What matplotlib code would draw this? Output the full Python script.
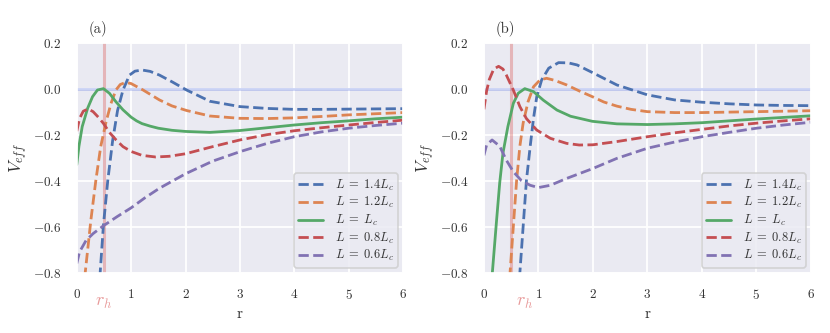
import matplotlib
matplotlib.use("Agg")
import matplotlib.pyplot as plt
import matplotlib.transforms as mtransforms
import seaborn as sns

# ---------------- data ----------------
labels = [r"$L\;=\;1.4L_c$", r"$L\;=\;1.2L_c$", r"$L\;=\;L_c$", r"$L\;=\;0.8L_c$", r"$L\;=\;0.6L_c$"]
colors = ["#4C72B0", "#DD8452", "#55A868", "#C44E52", "#8172B3"]
styles = ["--", "--", "-", "--", "--"]
r_h = 0.5

# panel (a)
ra_14 = [0.40, 0.43, 0.49, 0.57, 0.66, 0.75, 0.85, 0.97, 1.07, 1.2, 1.35, 1.52, 1.75, 2.02, 2.45, 3.0, 3.5, 4.0, 4.5, 5.0, 5.5, 6.0]
Va_14 = [-0.95, -0.80, -0.594, -0.40, -0.225, -0.095, -0.006, 0.059, 0.076, 0.081, 0.075, 0.059, 0.03, -0.006, -0.055, -0.078, -0.086, -0.09, -0.09, -0.089, -0.088, -0.087]
ra_12 = [0.13, 0.155, 0.26, 0.35, 0.44, 0.54, 0.63, 0.72, 0.8, 0.9, 1.0, 1.22, 1.52, 1.75, 2.02, 2.45, 3.0, 3.5, 4.0, 4.5, 5.0, 5.5, 6.0]
Va_12 = [-0.95, -0.80, -0.57, -0.40, -0.252, -0.143, -0.064, -0.006, 0.018, 0.027, 0.022, -0.006, -0.049, -0.075, -0.095, -0.119, -0.129, -0.13, -0.127, -0.121, -0.114, -0.109, -0.104]
ra_10 = [0.0, 0.04, 0.1, 0.2, 0.29, 0.38, 0.49, 0.6, 0.72, 0.85, 1.0, 1.1, 1.2, 1.35, 1.5, 1.75, 2.0, 2.45, 3.0, 3.5, 4.0, 4.5, 5.0, 5.5, 6.0]
Va_10 = [-0.33, -0.25, -0.165, -0.085, -0.035, -0.006, 0.0, -0.02, -0.057, -0.092, -0.124, -0.14, -0.152, -0.163, -0.172, -0.181, -0.186, -0.19, -0.182, -0.17, -0.158, -0.148, -0.14, -0.131, -0.124]
ra_08 = [0.0, 0.05, 0.12, 0.21, 0.3, 0.4, 0.49, 0.6, 0.72, 0.85, 1.0, 1.2, 1.45, 1.7, 2.0, 2.5, 3.0, 3.5, 4.0, 4.5, 5.0, 5.5, 6.0]
Va_08 = [-0.185, -0.13, -0.098, -0.088, -0.1, -0.125, -0.151, -0.19, -0.222, -0.252, -0.273, -0.29, -0.297, -0.294, -0.283, -0.252, -0.223, -0.2, -0.183, -0.17, -0.158, -0.147, -0.137]
ra_06 = [0.0, 0.05, 0.17, 0.3, 0.49, 0.75, 1.0, 1.25, 1.52, 2.0, 2.5, 3.0, 3.5, 4.0, 4.5, 5.0, 5.5, 6.0]
Va_06 = [-0.76, -0.71, -0.66, -0.63, -0.596, -0.555, -0.518, -0.475, -0.433, -0.37, -0.315, -0.274, -0.238, -0.209, -0.188, -0.172, -0.16, -0.15]

# panel (b)
rb_14 = [0.62, 0.66, 0.72, 0.78, 0.85, 0.91, 0.97, 1.06, 1.19, 1.37, 1.55, 1.71, 1.99, 2.44, 3.0, 3.5, 4.0, 4.5, 5.0, 5.5, 6.0]
Vb_14 = [-0.95, -0.80, -0.60, -0.40, -0.25, -0.13, -0.035, 0.038, 0.089, 0.113, 0.112, 0.103, 0.07, 0.016, -0.027, -0.049, -0.059, -0.066, -0.071, -0.073, -0.074]
rb_12 = [0.45, 0.48, 0.54, 0.6, 0.66, 0.72, 0.81, 0.91, 1.03, 1.15, 1.3, 1.52, 1.75, 1.99, 2.2, 2.44, 2.7, 3.0, 3.5, 4.0, 4.5, 5.0, 5.5, 6.0]
Vb_12 = [-0.95, -0.80, -0.60, -0.40, -0.25, -0.15, -0.057, 0.008, 0.038, 0.045, 0.036, 0.016, -0.01, -0.035, -0.058, -0.076, -0.09, -0.1, -0.104, -0.104, -0.102, -0.1, -0.098, -0.096]
rb_10 = [0.13, 0.155, 0.23, 0.29, 0.35, 0.44, 0.54, 0.63, 0.75, 0.91, 1.09, 1.34, 1.59, 1.99, 2.44, 3.0, 3.5, 4.0, 4.5, 5.0, 5.5, 6.0]
Vb_10 = [-0.95, -0.80, -0.58, -0.41, -0.28, -0.165, -0.064, -0.02, 0.0, -0.013, -0.05, -0.093, -0.12, -0.142, -0.153, -0.156, -0.153, -0.148, -0.14, -0.132, -0.125, -0.118]
rb_08 = [0.0, 0.05, 0.1, 0.18, 0.27, 0.35, 0.41, 0.54, 0.66, 0.78, 0.97, 1.22, 1.52, 1.75, 2.0, 2.44, 3.0, 3.5, 4.0, 4.5, 5.0, 5.5, 6.0]
Vb_08 = [-0.09, -0.01, 0.04, 0.085, 0.097, 0.085, 0.06, -0.006, -0.078, -0.13, -0.18, -0.216, -0.238, -0.245, -0.244, -0.23, -0.209, -0.192, -0.177, -0.162, -0.15, -0.14, -0.131]
rb_06 = [0.0, 0.05, 0.15, 0.29, 0.41, 0.54, 0.69, 0.85, 1.0, 1.22, 1.52, 1.99, 2.44, 3.0, 3.5, 4.0, 4.5, 5.0, 5.5, 6.0]
Vb_06 = [-0.29, -0.245, -0.223, -0.25, -0.31, -0.361, -0.40, -0.42, -0.43, -0.42, -0.39, -0.348, -0.303, -0.259, -0.232, -0.209, -0.19, -0.172, -0.158, -0.146]

panel_a = [(ra_14, Va_14), (ra_12, Va_12), (ra_10, Va_10), (ra_08, Va_08), (ra_06, Va_06)]
panel_b = [(rb_14, Vb_14), (rb_12, Vb_12), (rb_10, Vb_10), (rb_08, Vb_08), (rb_06, Vb_06)]
panel_titles = ["(a)", "(b)"]
rh_label_x = [0.5, 0.75]

# ---------------- style ----------------
sns.set_theme(style="darkgrid")
plt.rcParams.update({
    "font.family": "serif",
    "font.serif": ["cmr10"],
    "mathtext.fontset": "cm",
    "axes.formatter.use_mathtext": True,
    "axes.unicode_minus": True,
    "font.size": 9.5,
    "xtick.labelsize": 9.5,
    "ytick.labelsize": 9.5,
    "axes.labelsize": 10.5,
    "legend.fontsize": 9,
    "grid.linewidth": 1.3,
})

fig = plt.figure(figsize=(8.3, 3.33), dpi=100)
ax_a = fig.add_axes([0.0925, 0.181, 0.393, 0.691])
ax_b = fig.add_axes([0.583, 0.181, 0.394, 0.691])

for ax, data, title, rhx in zip([ax_a, ax_b], [panel_a, panel_b], panel_titles, rh_label_x):
    ax.axhline(0.0, color="#3355dd", alpha=0.25, lw=2, zorder=1.5)
    ax.axvline(r_h, color="#d9534f", alpha=0.35, lw=2.2, zorder=1.5)
    for (r, v), c, ls, lab in zip(data, colors, styles, labels):
        ax.plot(r, v, ls, color=c, lw=2, label=lab)
    ax.set_xlim(0, 6)
    ax.set_ylim(-0.8, 0.2)
    ax.set_xticks([0, 1, 2, 3, 4, 5, 6])
    ax.set_yticks([-0.8, -0.6, -0.4, -0.2, 0.0, 0.2])
    ax.set_yticklabels([r"$-0.8$", r"$-0.6$", r"$-0.4$", r"$-0.2$", r"$0.0$", r"$0.2$"])
    ax.set_xticklabels([r"$0$", r"$1$", r"$2$", r"$3$", r"$4$", r"$5$", r"$6$"])
    ax.tick_params(axis="both", colors="#333333", pad=5)
    ax.set_xlabel("r", color="#333333", labelpad=4, fontsize=11)
    ax.set_ylabel(r"$V_{eff}$", color="#333333", labelpad=2, fontsize=12.5)
    ax.text(0.035, 1.058, title, transform=ax.transAxes, fontsize=10.5, color="#333333",
            ha="left", va="center")
    trans = mtransforms.blended_transform_factory(ax.transData, ax.transAxes)
    ax.text(rhx, -0.1, r"$r_h$", transform=trans, color="#e89a9a", fontsize=13,
            ha="center", va="top")
    leg = ax.legend(loc="lower right", frameon=True, borderaxespad=0.4,
                    handlelength=2.0, labelspacing=0.2, handletextpad=0.9,
                    borderpad=0.35)
    leg.get_frame().set_facecolor("#EAEAF2")
    leg.get_frame().set_edgecolor("#cccccc")
    leg.get_frame().set_linewidth(1.2)
    for t in leg.get_texts():
        t.set_color("#333333")

fig.savefig("out.png", dpi=100)
